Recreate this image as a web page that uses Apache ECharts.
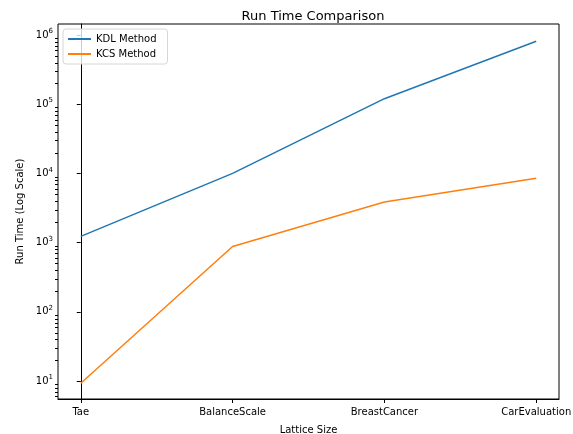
<!DOCTYPE html>
<html><head><meta charset="utf-8">
<script src="https://cdn.jsdelivr.net/npm/echarts@6/dist/echarts.min.js"></script>
<style>html,body{margin:0;padding:0;background:#fff}#c{width:573px;height:434px}</style>
</head><body><div id="c"></div>
<script>
const categories = ['Tae', 'BalanceScale', 'BreastCancer', 'CarEvaluation'];
const kdlValues = [1230, 10000, 120000, 810000];
const kcsValues = [9.3, 880, 3850, 8500];
const majorTicks = [10, 100, 1000, 10000, 100000, 1000000];
const minorTicks = [];
for (let e = 0; e <= 5; e++) for (let m = 2; m <= 9; m++) { const v = m * Math.pow(10, e); if (v > 5.5 && v < 1440000) minorTicks.push(v); }

const font = 'DejaVu Sans';
const X_MIN = -0.15, X_MAX = 3.15;
const chart = echarts.init(document.getElementById('c'));
chart.setOption({
  animation: false,
  textStyle: { fontFamily: font },
  title: { text: 'Run Time Comparison', left: 308, top: 5, textAlign: 'center',
    textStyle: { fontFamily: font, fontSize: 13, fontWeight: 'normal', color: '#000' } },
  legend: {
    left: 63, top: 29, orient: 'vertical', itemWidth: 23, itemHeight: 10, itemGap: 5,
    padding: [5, 11, 5, 4], borderColor: '#d6d6d6', borderWidth: 1, borderRadius: 3,
    backgroundColor: 'rgba(255,255,255,0.8)',
    itemStyle: { opacity: 0 },
    textStyle: { fontFamily: font, fontSize: 10, color: '#000' },
    data: ['KDL Method', 'KCS Method']
  },
  grid: { left: 58, right: 14, top: 24, bottom: 35, show: true, borderColor: '#000', borderWidth: 1,
    containLabel: false, outerBoundsMode: 'none' },
  xAxis: {
    type: 'value', min: X_MIN, max: X_MAX,
    name: 'Lattice Size', nameLocation: 'middle', nameGap: 26,
    nameTextStyle: { fontFamily: font, fontSize: 10, color: '#000' },
    axisLine: { show: true, lineStyle: { color: '#000', width: 1 } },
    splitLine: { show: false },
    axisTick: { show: true, length: 4, customValues: [0, 1, 2, 3], lineStyle: { color: '#000' } },
    axisLabel: { customValues: [0, 1, 2, 3], fontFamily: font, fontSize: 10, color: '#000', margin: 8,
      formatter: v => categories[Math.round(v)] }
  },
  yAxis: {
    type: 'log', min: 5.5, max: 1440000,
    name: 'Run Time (Log Scale)', nameLocation: 'middle', nameGap: 33, nameRotate: 90,
    nameTextStyle: { fontFamily: font, fontSize: 10, color: '#000' },
    axisLine: { show: true, lineStyle: { color: '#000', width: 1 } },
    splitLine: { show: false },
    axisTick: { show: true, length: 4, customValues: majorTicks, lineStyle: { color: '#000' } },
    axisLabel: { customValues: majorTicks, fontFamily: font, fontSize: 10, color: '#000', margin: 5,
      formatter: v => { const e = Math.round(Math.log10(v)); return '{b|10}{s|' + e + '}'; },
      rich: { b: { fontFamily: font, fontSize: 10, color: '#000' },
              s: { fontFamily: font, fontSize: 7, color: '#000', padding: [0, 0, 7, 0] } } }
  },
  series: [{
    name: 'KDL Method', type: 'line', symbol: 'none',
    lineStyle: { color: '#1f77b4', width: 1.5 }, itemStyle: { color: '#1f77b4' },
    data: categories.map((c, i) => [i, kdlValues[i]])
  }, {
    name: 'KCS Method', type: 'line', symbol: 'none',
    lineStyle: { color: '#ff7f0e', width: 1.5 }, itemStyle: { color: '#ff7f0e' },
    data: categories.map((c, i) => [i, kcsValues[i]])
  }, {
    name: 'minorTicks', type: 'custom', silent: true, clip: false,
    encode: { x: 0, y: 1 },
    data: minorTicks.map(v => [X_MIN, v]),
    renderItem: (params, api) => {
      const p = api.coord([api.value(0), api.value(1)]);
      const y = Math.round(p[1]) + 0.5;
      return { type: 'line', shape: { x1: p[0] - 3, y1: y, x2: p[0], y2: y },
        style: { stroke: '#000', lineWidth: 1 } };
    }
  }]
});
</script></body></html>
